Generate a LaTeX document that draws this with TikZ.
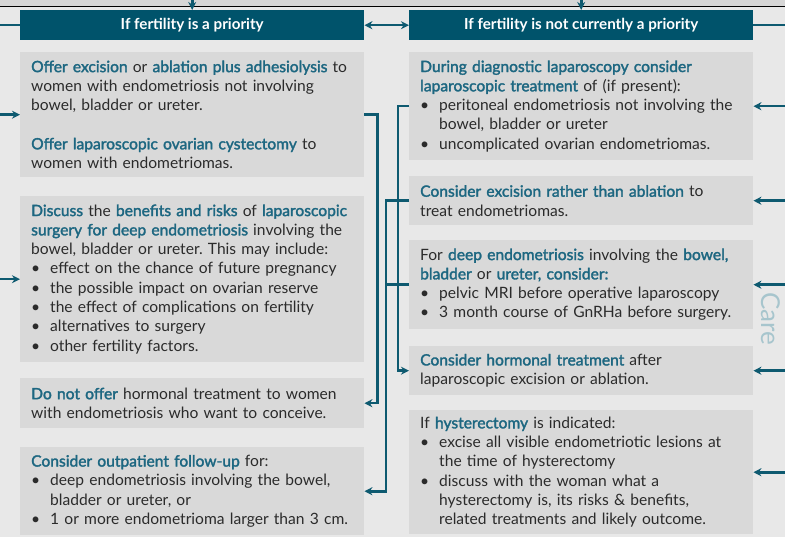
\documentclass[tikz,border=0pt]{standalone}
\usepackage{fontspec}
\setmainfont{Lato}[BoldFont={Lato}, BoldFeatures={FakeBold=2}]
\newfontfamily\headfont{Lato}
\usetikzlibrary{arrows.meta}
\definecolor{headteal}{HTML}{00536B}
\definecolor{linkteal}{HTML}{0E5A70}
\definecolor{keyteal}{HTML}{1D6781}
\definecolor{boxgrey}{HTML}{D9D9D9}
\definecolor{pagegrey}{HTML}{E8E8E8}
\definecolor{bandgrey}{HTML}{D6D6D6}
\definecolor{bodytext}{HTML}{2B2B2B}
\definecolor{sidegrey}{HTML}{A7C5CD}
\newcommand{\keyph}[1]{\textcolor{keyteal}{\bfseries #1}}
\newcommand{\bul}{\makebox[19pt][l]{\textbullet}}
\newcommand{\cont}{\hspace*{19pt}}
\frenchspacing
\begin{document}
\begin{tikzpicture}[
        x = 1pt, y = -1pt,
        headbox/.style = {fill=headteal, text=white, anchor=north west, inner sep=0pt,
          minimum width=344pt, minimum height=30pt, font=\fontsize{15.2}{18}\headfont\bfseries},
        infobox/.style = {fill=boxgrey, text=bodytext, anchor=north west, align=left,
          text width=322pt, inner xsep=11pt, inner ysep=0pt,
          font=\fontsize{15.6}{19.3}\selectfont},
        link/.style = {draw=linkteal, line width=2.6pt, -{Stealth[length=8pt,width=8pt]}},
        stub/.style = {draw=linkteal, line width=2.6pt}]
      \fill [pagegrey] (0, 0) rectangle (785, 537);
      \useasboundingbox (0, 0) rectangle (785, 537);
      \fill [bandgrey] (0, 0) rectangle (785, 6);
      \draw [black, line width=1.5pt] (0, 6.5) -- (785, 6.5);
      \coordinate (west) at (0, 0);
      \coordinate (east) at (785, 0);
      \coordinate (top) at (0, 0);
      \node [headbox] (H1) at (20, 10) {If fertility is a priority};
      \node [headbox] (H2) at (409, 10) {If fertility is not currently a priority};
      \node [infobox, minimum height=125pt] (L1) at (20, 52) {\keyph{Offer excision} or \keyph{ablation plus adhesiolysis} to\\
        women with endometriosis not involving\\
        bowel, bladder or ureter.\\[19.3pt]
        \keyph{Offer laparoscopic ovarian cystectomy} to\\
        women with endometriomas.};
      \node [infobox, minimum height=166pt] (L2) at (20, 196) {\keyph{Discuss} the \keyph{benefits and risks} of \keyph{laparoscopic}\\
        \keyph{surgery for deep endometriosis} involving the\\
        bowel, bladder or ureter. This may include:\\
        \bul effect on the chance of future pregnancy\\
        \bul the possible impact on ovarian reserve\\
        \bul the effect of complications on fertility\\
        \bul alternatives to surgery\\
        \bul other fertility factors.};
      \node [infobox, minimum height=50pt] (L3) at (20, 378) {\keyph{Do not offer} hormonal treatment to women\\
        with endometriosis who want to conceive.};
      \node [infobox, minimum height=88pt] (L4) at (20, 447) {\keyph{Consider outpatient follow-up} for:\\
        \bul deep endometriosis involving the bowel,\\
        \cont bladder or ureter, or\\
        \bul 1 or more endometrioma larger than 3 cm.};
      \node [infobox, minimum height=108pt] (R1) at (409, 52) {\keyph{During diagnostic laparoscopy consider}\\
        \keyph{laparoscopic treatment} of (if present):\\
        \bul peritoneal endometriosis not involving the\\
        \cont bowel, bladder or ureter\\
        \bul uncomplicated ovarian endometriomas.};
      \node [infobox, minimum height=49pt] (R2) at (409, 176) {\keyph{Consider excision rather than ablation} to\\
        treat endometriomas.};
      \node [infobox, minimum height=89pt] (R3) at (409, 240) {For \keyph{deep endometriosis} involving the \keyph{bowel,}\\
        \keyph{bladder} or \keyph{ureter, consider:}\\
        \bul pelvic MRI before operative laparoscopy\\
        \bul 3 month course of GnRHa before surgery.};
      \node [infobox, minimum height=49pt] (R4) at (409, 346) {\keyph{Consider hormonal treatment} after\\
        laparoscopic excision or ablation.};
      \node [infobox, minimum height=124pt] (R5) at (409, 410) {If \keyph{hysterectomy} is indicated:\\
        \bul excise all visible endometriotic lesions at\\
        \cont the time of hysterectomy\\
        \bul discuss with the woman what a\\
        \cont hysterectomy is, its risks \& benefits,\\
        \cont related treatments and likely outcome.};
      \node [text=sidegrey, rotate=-90, font=\fontsize{26}{26}\selectfont] (side) at (771, 319) {Care};
      \draw [link] (H1.north |- top) -- (H1.north);
      \draw [link] (H2.north |- top) -- (H2.north);
      \draw [stub] (H1.west -| west) -- (H1.west);
      \draw [stub] (H2.east) -- (H2.east -| east);
      \draw [link, {Stealth[length=8pt,width=8pt]}-{Stealth[length=8pt,width=8pt]}] (H1.east) -- (H2.west);
      \draw [link] (L1.west -| west) -- (L1.west);
      \draw [link] (L2.west -| west) -- (L2.west);
      \draw [link] (R1.east -| east) -- (R1.east);
      \draw [link] (R2.east -| east) -- (R2.east);
      \draw [link] (R3.east -| east) -- (R3.east);
      \draw [link] (R4.east -| east) -- (R4.east);
      \draw [link] (R5.east -| east) -- (R5.east);
      \draw [link] (L1.east) -- ++(13, 0) |- (L3.east);
      \draw [link] (R1.west) -- ++(-11, 0) |- (R4.west);
      \draw [link] (R2.west) -- ++(-23, 0) |- (L4.east);
      \draw [stub] (R3.west) -- ++(-23, 0);
    \end{tikzpicture}
\end{document}
